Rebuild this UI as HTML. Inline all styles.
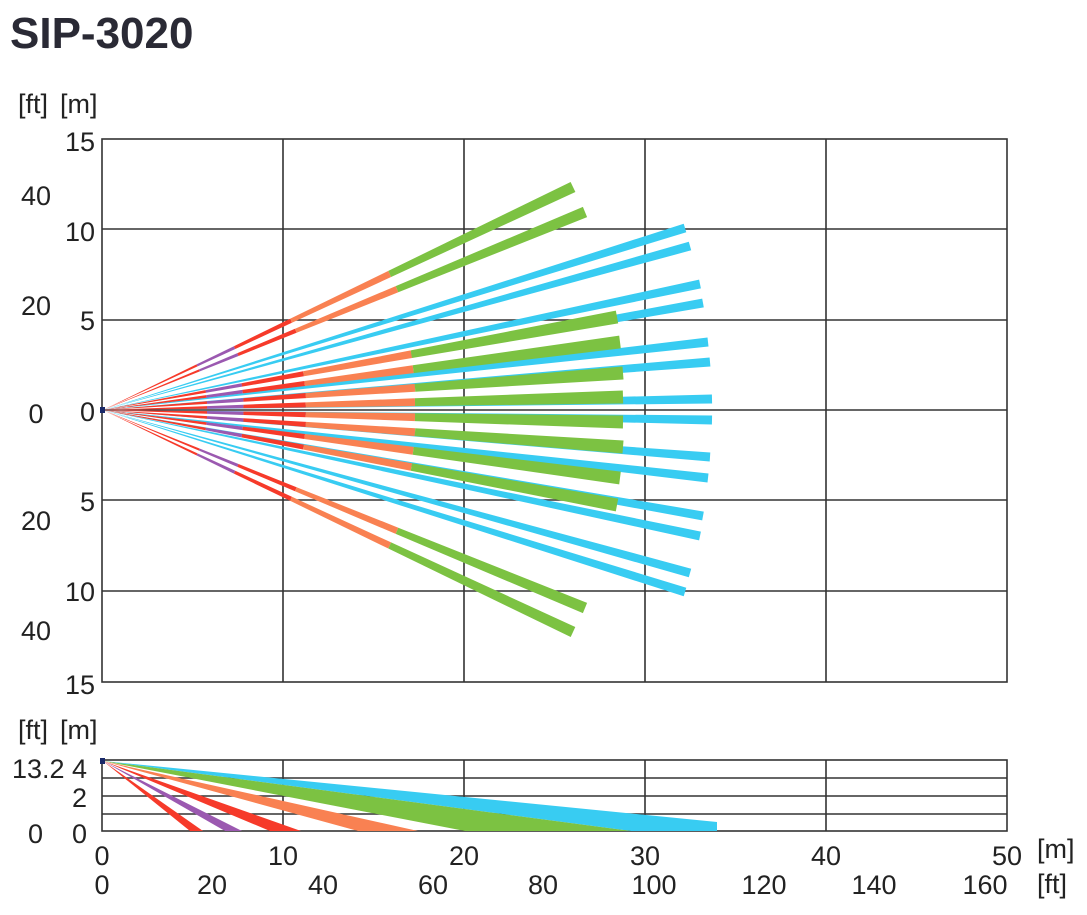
<!DOCTYPE html>
<html><head><meta charset="utf-8"><style>
body{margin:0;background:#fff;width:1087px;height:915px;overflow:hidden}
svg{position:absolute;left:0;top:0}
text{font-family:"Liberation Sans Narrow","Liberation Sans",sans-serif;fill:#222;font-size:27px}
</style></head><body>
<svg id="s" width="1087" height="915" xmlns="http://www.w3.org/2000/svg">
<text x="10" y="48" style="font-family:'Liberation Sans',sans-serif;font-weight:bold;font-size:44px;fill:#2a2a35">SIP-3020</text>
<g stroke="#333" stroke-width="1.6" fill="none">
<rect x="102" y="139" width="905" height="543"/>
<path d="M283 139V682M464 139V682M645 139V682M826 139V682M102 229H1007M102 320H1007M102 410H1007M102 500H1007M102 591H1007"/>
<rect x="102" y="760" width="905" height="71"/>
<path d="M283 760V831M464 760V831M645 760V831M826 760V831M102 778H1007M102 796H1007M102 814H1007"/>
</g>
<g id="beams"></g>
<g id="side">
<polygon points="103,761 717,822 717,831 631,831" fill="#38ccf2"/>
<polygon points="103,761 631,831 465,831" fill="#7cc242"/>
<polygon points="103,761 418,831 358,831" fill="#f98152"/>
<polygon points="103,761 301,831 270,831" fill="#f63a2a"/>
<polygon points="103,761 242,831 225,831" fill="#9b59b0"/>
<polygon points="103,761 203,831 190,831" fill="#f63a2a"/>
</g>
<rect x="100" y="407" width="5" height="6" fill="#1a2a6a"/>
<rect x="100" y="758" width="5" height="6" fill="#1a2a6a"/>
<g>
<text x="18" y="113" font-size="24">[ft]</text><text x="60" y="113" font-size="24">[m]</text>
<g text-anchor="end">
<text x="95" y="151">15</text><text x="95" y="241">10</text><text x="95" y="330">5</text><text x="95" y="421">0</text>
<text x="95" y="511">5</text><text x="95" y="601">10</text><text x="95" y="694">15</text>
</g>
<g text-anchor="middle">
<text x="36" y="205">40</text><text x="36" y="315">20</text><text x="36" y="423">0</text>
<text x="36" y="530">20</text><text x="36" y="640">40</text>
</g>
<text x="18" y="739" font-size="24">[ft]</text><text x="60" y="739" font-size="24">[m]</text>
<text x="12" y="778">13.2</text><text x="72" y="778">4</text>
<text x="72" y="807">2</text>
<text x="28" y="843">0</text><text x="72" y="843">0</text>
<g text-anchor="middle">
<text x="102" y="865">0</text><text x="283" y="865">10</text><text x="464" y="865">20</text><text x="645" y="865">30</text><text x="826" y="865">40</text><text x="1007" y="865">50</text>
<text x="102" y="894">0</text><text x="212" y="894">20</text><text x="323" y="894">40</text><text x="433" y="894">60</text><text x="543" y="894">80</text><text x="654" y="894">100</text><text x="764" y="894">120</text><text x="874" y="894">140</text><text x="985" y="894">160</text>
</g>
<text x="1037" y="858" font-size="24">[m]</text><text x="1037" y="893" font-size="24">[ft]</text>
</g>
</svg>
<script>
var O=[103,410];
var R='#f63a2a',P='#9b59b0',OR='#f98152',G='#7cc242',B='#38ccf2';
var beams=[];
[[685,228],[690,246],[700,284],[703,303],[708,342],[710,362],[712,399],[712,420],[710,457],[708,478],[703,516],[700,536],[690,573],[685,592]].forEach(function(e){beams.push({e:e,w:9,seg:[[1,B]]});});
[[573,187],[585,212],[585,608],[573,632]].forEach(function(e){beams.push({e:e,w:11,seg:[[0.2,R],[0.28,P],[0.4,R],[0.61,OR],[1,G]]});});
[[617,317],[620,342],[623,373],[623,397],[623,422],[623,447],[620,478],[617,505]].forEach(function(e){beams.push({e:e,w:13,seg:[[0.2,R],[0.27,P],[0.39,R],[0.6,OR],[1,G]]});});
var g=document.getElementById('beams'),h='';
beams.forEach(function(b){
 var dx=b.e[0]-O[0],dy=b.e[1]-O[1],L=Math.hypot(dx,dy),nx=-dy/L,ny=dx/L,t0=0;
 b.seg.forEach(function(s){
  var t1=s[0];
  function p(t,sg){var hw=t*b.w/2;return (O[0]+t*dx+sg*nx*hw).toFixed(1)+','+(O[1]+t*dy+sg*ny*hw).toFixed(1);}
  h+='<polygon fill="'+s[1]+'" points="'+p(t0,1)+' '+p(t1,1)+' '+p(t1,-1)+' '+p(t0,-1)+'"/>';
  t0=t1;
 });
});
g.innerHTML=h;
</script>
</body></html>
